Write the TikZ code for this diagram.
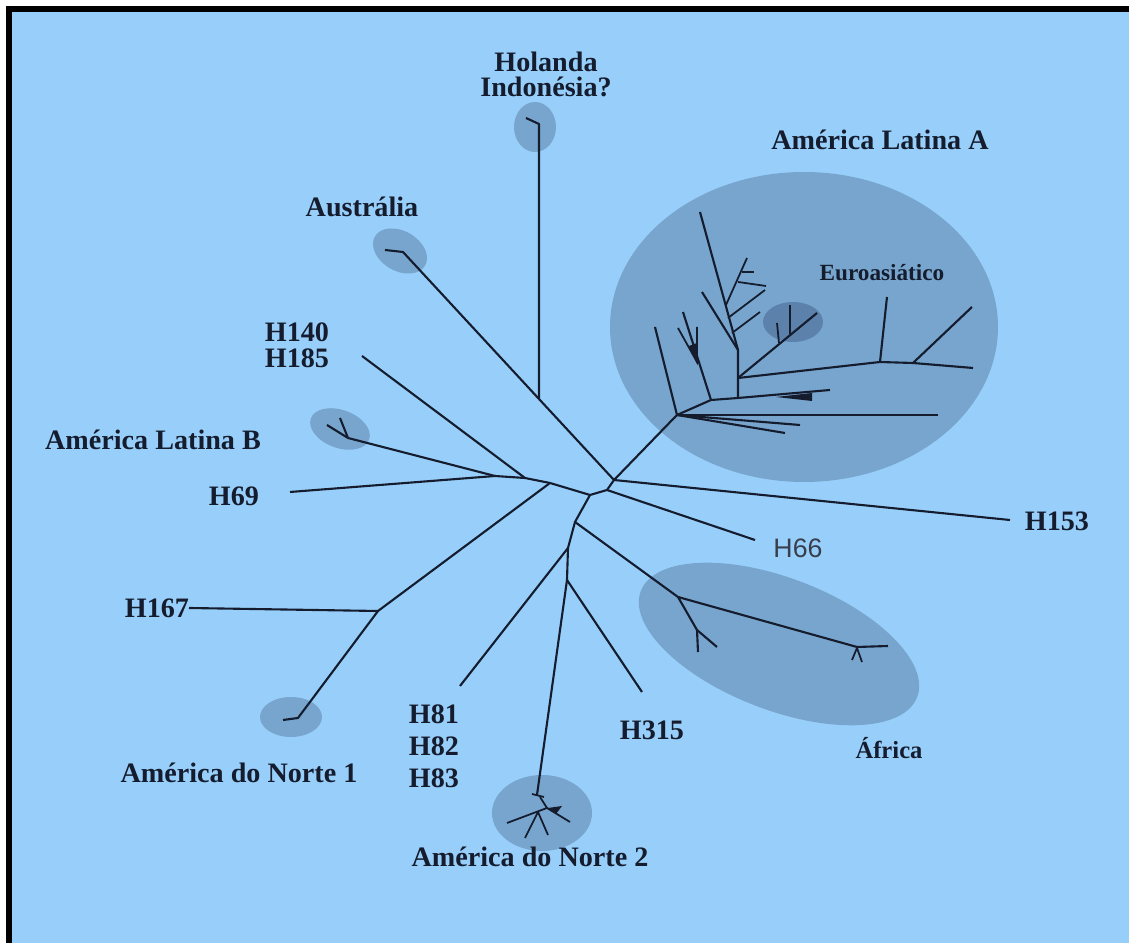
\documentclass[tikz,border=0pt]{standalone}
\usepackage{fontspec}
\setmainfont{Liberation Serif}
\setsansfont{Liberation Sans}
\usetikzlibrary{calc}
\definecolor{skybg}{RGB}{152, 207, 250}
\definecolor{cladefill}{RGB}{120, 165, 205}
\definecolor{cladedark}{RGB}{92, 130, 172}
\definecolor{linecol}{RGB}{20, 28, 46}

\begin{document}
\begin{tikzpicture}[
    x=0.01cm, y=-0.01cm,
    branch/.style={draw=linecol, line width=0.6pt, line join=round},
    twig/.style={draw=linecol, line width=0.5pt},
    clade/.style={fill=cladefill},
    hapname/.style={font=\fontsize{8}{7.1}\selectfont\bfseries, text=linecol, inner sep=0pt, align=center},
    hapsmall/.style={font=\fontsize{6.6}{8}\selectfont\bfseries, text=linecol, inner sep=0pt},
    hapsans/.style={font=\fontsize{7.6}{9}\selectfont\sffamily, text=linecol!85, inner sep=0pt}
]
    \useasboundingbox (0,0) rectangle (1129,943);
    \fill[white] (0,0) rectangle (1129,943);
    \fill[skybg] (9,9) rectangle (1129,943);
    \draw[black, line width=1.7pt] (9,943) -- (9,9) -- (1129,9);

    % clades
    \fill[clade] (804,327) ellipse (194 and 155);
    \fill[cladedark] (793,322) ellipse (30 and 20);
    \fill[clade] (535,127) ellipse (21 and 25);
    \fill[clade, rotate around={-30:(400,251)}] (400,251) ellipse (29 and 20);
    \fill[clade, rotate around={-20:(340,429)}] (340,429) ellipse (31 and 19);
    \fill[clade] (291,717) ellipse (31 and 20);
    \fill[clade] (542,813) ellipse (50 and 38);
    \fill[clade, rotate around={-21:(779,644)}] (779,644) ellipse (148 and 66);

    % junctions
    \coordinate (n1) at (495,476);
    \coordinate (n2) at (525,478);
    \coordinate (n3) at (550,483);
    \coordinate (n4) at (590,495);
    \coordinate (n5) at (607,490);
    \coordinate (n6) at (614,480);
    \coordinate (n7) at (575,522);
    \coordinate (n8) at (568,548);
    \coordinate (n9) at (567,580);
    \coordinate (k1) at (378,611);
    \coordinate (hj) at (539,399);
    \coordinate (a1) at (678,597);
    \coordinate (a4) at (697,630);
    \coordinate (a2) at (857,647);

    % leaves
    \coordinate (hol) at (539,124);
    \coordinate (aus) at (403,252);
    \coordinate (h140) at (362,356);
    \coordinate (latb) at (348,438);
    \coordinate (h69) at (290,492);
    \coordinate (h167) at (189,608);
    \coordinate (amn1) at (298,718);
    \coordinate (h81) at (460,686);
    \coordinate (h315) at (642,692);
    \coordinate (amn2) at (537,795);
    \coordinate (h66) at (755,540);
    \coordinate (h153) at (1010,520);

    % backbone
    \draw[branch] (h69) -- (n1) -- (n2) -- (n3) -- (n4) -- (n5) -- (n6);
    \draw[branch] (latb) -- (n1);
    \draw[branch] (latb) -- ++(-21,-13);
    \draw[branch] (latb) -- ++(-8,-20);
    \draw[branch] (h140) -- (n2);
    \draw[branch] (aus) ++(-18,-2) -- (aus) -- (hj) -- (n6);
    \draw[branch] (hol) ++(-13,-6) -- (hol) -- (hj);
    \draw[branch] (n6) -- (h153);
    \draw[branch] (n5) -- (h66);
    \draw[branch] (n3) -- (k1) -- (amn1) -- ++(-15,2);
    \draw[branch] (k1) -- (h167);
    \draw[branch] (n4) -- (n7) -- (n8) -- (n9) -- (amn2);
    \draw[branch] (n8) -- (h81);
    \draw[branch] (n9) -- (h315);

    % Africa
    \draw[branch] (n7) -- (a1) -- (a2) -- ++(31,-1);
    \draw[branch] (a1) -- (a4) -- ++(1,22);
    \draw[branch] (a4) -- ++(20,17);
    \draw[twig] (a2) ++(-5,13) -- ++(5,-12) -- ++(5,14);

    % America do Norte 2 tip
    \draw[twig] (amn2) ++(-5,-1) -- ++(12,3);
    \draw[twig] (540,797) -- (547,808) -- (507,823);
    \draw[twig] (538,812) -- (525,838);
    \draw[twig] (538,812) -- (548,835);
    \draw[twig] (547,808) -- (570,822);
    \fill[linecol] (548,808) -- (562,806) -- (556,814) -- cycle;

    % America Latina A
    \coordinate (L1) at (677,415);
    \coordinate (L2) at (711,400);
    \coordinate (L3) at (738,398);
    \coordinate (L4) at (738,350);
    \coordinate (L6) at (738,378);
    \coordinate (L5) at (830,390);
    \coordinate (r1) at (880,362);
    \coordinate (r2) at (913,363);
    \draw[branch] (n6) -- (L1) -- (L2) -- (L3) -- (L5);
    \draw[branch] (L1) -- (655,327);
    \draw[branch] (L1) -- (938,415);
    \draw[branch] (L1) -- (785,433);
    \draw[branch] (L1) -- (800,425);
    \draw[branch] (L2) -- (683,312);
    \draw[twig] (678,328) -- (697,362) -- (697,327);
    \fill[linecol] (689,346) -- (697,364) -- (697,343) -- cycle;
    \fill[linecol] (776,397) -- (812,393) -- (812,401) -- cycle;
    \draw[branch] (L3) -- (L4) -- (700,212);
    \draw[branch] (L4) -- (702,292);
    \draw[twig] (728,318) -- (765,290);
    \draw[twig] (732,333) -- (760,312);
    \draw[twig] (726,305) -- (747,258);
    \draw[twig] (738,282) -- (766,286);
    \draw[twig] (742,272) -- (754,272);
    % Euroasiatico
    \draw[branch] (L6) -- (817,313);
    \draw[twig] (790,334) -- (790,305);
    \draw[twig] (779,343) -- (777,323);
    \draw[branch] (L6) -- (r1) -- (r2) -- (973,368);
    \draw[branch] (r1) -- (887,297);
    \draw[branch] (r2) -- (972,307);

    % labels
    \node[hapname] (lhol) at (546,74) {Holanda\\Indonésia?};
    \node[hapname] (llata) at (880,140) {América Latina A};
    \node[hapsmall] (leuro) at (882,273) {Euroasiático};
    \node[hapname] (laus) at (362,207) {Austrália};
    \node[hapname, font=\fontsize{8}{7.4}\selectfont\bfseries] (lh140) at (297,345) {H140\\H185};
    \node[hapname] (llatb) at (153,440) {América Latina B};
    \node[hapname] (lh69) at (234,496) {H69};
    \node[hapname] (lh167) at (157,608) {H167};
    \node[hapname] (lamn1) at (239,773) {América do Norte 1};
    \node[hapname, font=\fontsize{8}{9.1}\selectfont\bfseries] (lh81) at (434,746) {H81\\H82\\H83};
    \node[hapname] (lh315) at (652,730) {H315};
    \node[hapsmall, font=\fontsize{7}{8}\selectfont\bfseries] (lafr) at (889,748) {África};
    \node[hapsans] (lh66) at (798,548) {H66};
    \node[hapname] (lh153) at (1057,521) {H153};
    \node[hapname] (lamn2) at (530,857) {América do Norte 2};
\end{tikzpicture}
\end{document}
